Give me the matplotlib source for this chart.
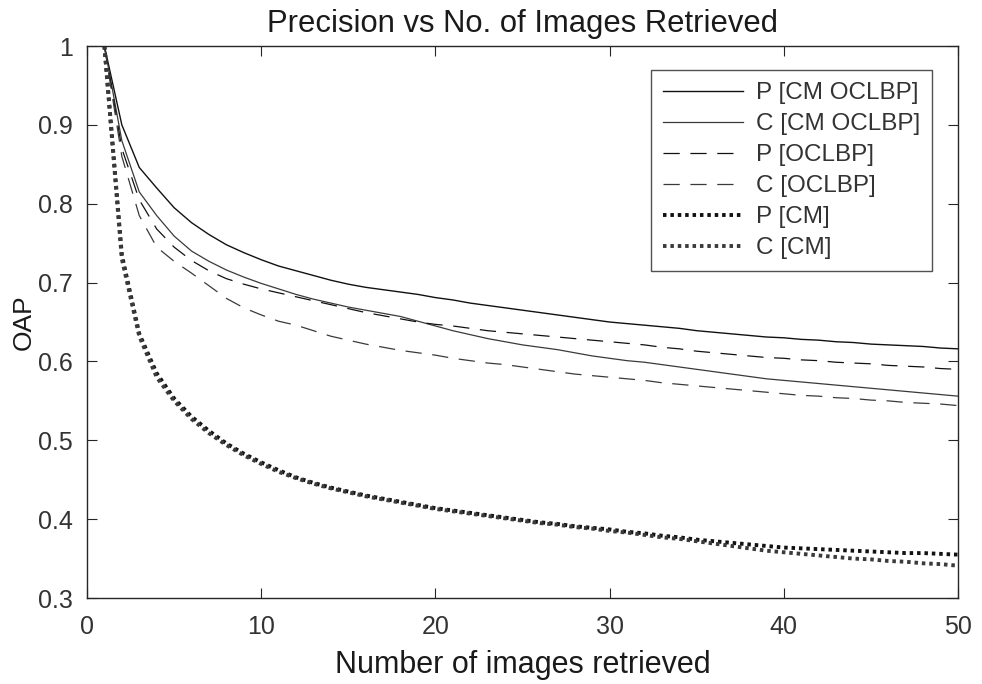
import matplotlib
matplotlib.use("Agg")
import matplotlib.pyplot as plt

plt.rcParams['font.family'] = ['Liberation Sans', 'DejaVu Sans']

n_images = list(range(1, 51))

p_cm_oclbp = [1.000, 0.900, 0.846, 0.820, 0.795, 0.776, 0.761, 0.748, 0.738, 0.729,
              0.721, 0.715, 0.709, 0.703, 0.698, 0.694, 0.691, 0.688, 0.685, 0.681,
              0.678, 0.674, 0.671, 0.668, 0.665, 0.662, 0.659, 0.656, 0.653, 0.650,
              0.648, 0.646, 0.644, 0.642, 0.639, 0.637, 0.635, 0.633, 0.631, 0.630,
              0.628, 0.627, 0.625, 0.624, 0.622, 0.621, 0.620, 0.619, 0.617, 0.616]

c_cm_oclbp = [1.000, 0.880, 0.815, 0.785, 0.759, 0.740, 0.727, 0.716, 0.707, 0.699,
              0.692, 0.685, 0.679, 0.674, 0.669, 0.665, 0.661, 0.657, 0.651, 0.645,
              0.639, 0.634, 0.629, 0.625, 0.621, 0.618, 0.615, 0.611, 0.607, 0.604,
              0.601, 0.599, 0.596, 0.593, 0.590, 0.587, 0.584, 0.581, 0.578, 0.576,
              0.574, 0.572, 0.570, 0.568, 0.566, 0.564, 0.562, 0.560, 0.558, 0.556]

p_oclbp = [1.000, 0.870, 0.805, 0.768, 0.745, 0.728, 0.715, 0.705, 0.698, 0.692,
           0.687, 0.682, 0.677, 0.672, 0.667, 0.662, 0.658, 0.654, 0.650, 0.647,
           0.645, 0.642, 0.639, 0.637, 0.635, 0.633, 0.631, 0.629, 0.627, 0.625,
           0.623, 0.621, 0.618, 0.616, 0.613, 0.611, 0.609, 0.607, 0.605, 0.604,
           0.602, 0.601, 0.599, 0.598, 0.597, 0.595, 0.594, 0.593, 0.591, 0.590]

c_oclbp = [1.000, 0.860, 0.785, 0.745, 0.727, 0.712, 0.696, 0.680, 0.668, 0.659,
           0.651, 0.646, 0.639, 0.632, 0.627, 0.622, 0.618, 0.614, 0.611, 0.608,
           0.604, 0.601, 0.598, 0.596, 0.593, 0.590, 0.587, 0.584, 0.582, 0.580,
           0.578, 0.576, 0.573, 0.571, 0.569, 0.567, 0.565, 0.563, 0.561, 0.559,
           0.557, 0.556, 0.554, 0.553, 0.551, 0.550, 0.548, 0.547, 0.546, 0.544]

p_cm = [1.000, 0.735, 0.635, 0.585, 0.553, 0.530, 0.512, 0.496, 0.483, 0.472,
        0.462, 0.453, 0.446, 0.440, 0.435, 0.430, 0.426, 0.422, 0.418, 0.414,
        0.411, 0.408, 0.405, 0.402, 0.399, 0.396, 0.394, 0.391, 0.389, 0.387,
        0.384, 0.382, 0.379, 0.377, 0.374, 0.372, 0.370, 0.368, 0.366, 0.364,
        0.363, 0.362, 0.361, 0.360, 0.359, 0.358, 0.357, 0.357, 0.356, 0.355]

c_cm = [1.000, 0.730, 0.632, 0.580, 0.550, 0.527, 0.509, 0.494, 0.481, 0.470,
        0.460, 0.452, 0.445, 0.439, 0.434, 0.429, 0.425, 0.421, 0.417, 0.413,
        0.410, 0.407, 0.404, 0.401, 0.398, 0.395, 0.393, 0.390, 0.388, 0.385,
        0.383, 0.380, 0.377, 0.375, 0.372, 0.369, 0.366, 0.363, 0.360, 0.358,
        0.356, 0.354, 0.352, 0.350, 0.349, 0.347, 0.346, 0.344, 0.343, 0.341]

labels = ["P [CM OCLBP]", "C [CM OCLBP]", "P [OCLBP]", "C [OCLBP]", "P [CM]", "C [CM]"]
x_ticks = [0, 10, 20, 30, 40, 50]
y_ticks = [0.3, 0.4, 0.5, 0.6, 0.7, 0.8, 0.9, 1.0]
y_ticklabels = ["0.3", "0.4", "0.5", "0.6", "0.7", "0.8", "0.9", "1"]

fig = plt.figure(figsize=(9.82, 6.84), dpi=100)
ax = fig.add_axes([0.0886, 0.1257, 0.8870, 0.8070])

txt = '#262626'
dash = (0, (13, 8.5))
dot = (0, (0.9, 1.0))
ax.plot(n_images, p_cm_oclbp, color='#111111', lw=1.0, ls='-', label=labels[0])
ax.plot(n_images, c_cm_oclbp, color='#3a3a3a', lw=0.9, ls='-', label=labels[1])
ax.plot(n_images, p_oclbp, color='#111111', lw=0.9, ls=dash, label=labels[2])
ax.plot(n_images, c_oclbp, color='#3a3a3a', lw=0.9, ls=dash, label=labels[3])
ax.plot(n_images, p_cm, color='#111111', lw=2.8, ls=dot, label=labels[4])
ax.plot(n_images, c_cm, color='#3a3a3a', lw=2.8, ls=dot, label=labels[5])

ax.set_xlim(0, 50)
ax.set_ylim(0.3, 1.0)
ax.set_xticks(x_ticks)
ax.set_yticks(y_ticks)
ax.set_yticklabels(y_ticklabels)
ax.tick_params(axis='both', direction='in', top=True, right=True, labelsize=18,
               length=7, colors=txt, labelcolor='#333333')
ax.tick_params(axis='x', pad=12)
ax.tick_params(axis='y', pad=10)
for s in ax.spines.values():
    s.set_color(txt)
    s.set_linewidth(1.0)

ax.set_xlabel("Number of images retrieved", fontsize=22, color='#1a1a1a', labelpad=8.5)
ax.set_ylabel("OAP", fontsize=19, color='#1a1a1a', labelpad=2)
ax.set_title("Precision vs No. of Images Retrieved", fontsize=22.3, color='#1a1a1a', pad=10)

leg = ax.legend(loc='upper right', bbox_to_anchor=(0.970, 0.9565), borderaxespad=0,
                fontsize=17.5, frameon=True, fancybox=False, handlelength=3.3,
                handletextpad=0.5, labelspacing=0.37, borderpad=0.5)
leg.get_frame().set_edgecolor(txt)
leg.get_frame().set_linewidth(1.0)
for t in leg.get_texts():
    t.set_color('#333333')

fig.savefig("out.png", dpi=100)
